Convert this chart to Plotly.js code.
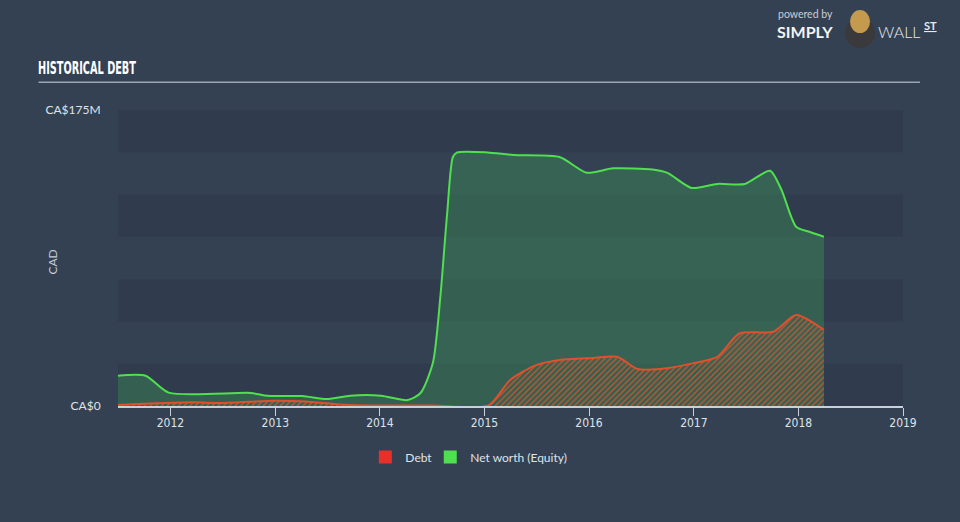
<!DOCTYPE html>
<html>
<head>
<meta charset="utf-8">
<script src="https://cdn.plot.ly/plotly-3.0.1.min.js"></script>
<style>
  html, body { margin: 0; padding: 0; background: #344153; }
  #chart { width: 960px; height: 522px; }
</style>
</head>
<body>
<div id="chart"></div>
<script>
// ---- Data (values in CAD) ----
const equityDates = ['2011-07-01','2011-10-06','2011-12-26','2012-10-08','2012-12-05','2013-04-05','2013-07-01','2013-09-20','2014-01-05','2014-04-08','2014-05-23','2014-07-05','2014-07-31','2014-08-24','2014-09-13','2014-09-28','2015-01-12','2015-04-12','2015-09-20','2015-12-24','2016-03-25','2016-08-10','2016-10-01','2016-12-24','2017-03-24','2017-06-28','2017-09-24','2017-11-03','2017-12-24','2018-02-10','2018-03-31'];
const equityValues = [17.9,17.9,7.9,7.7,6.0,5.9,4.1,6.1,6.1,3.5,7.7,25.4,64.4,114,147.2,149.9,149.9,148.4,147.2,137.9,140.5,139.8,137.8,128.9,131.3,131.3,139.1,127.7,106.0,102.9,100.1].map(v => v * 1e6);

const debtDates = ['2011-07-01','2012-03-15','2012-07-01','2013-01-01','2013-04-15','2013-09-15','2014-07-01','2015-01-15','2015-04-01','2015-07-01','2015-09-20','2016-01-15','2016-04-08','2016-06-18','2016-09-05','2016-12-28','2017-03-24','2017-06-10','2017-10-05','2017-12-24','2018-03-31'];
const debtValues = [0.6,2.2,1.8,3.1,2.7,0.6,0.3,0.3,15.4,24.2,27.2,28.4,29.1,21.9,21.9,25.2,29.1,43.0,43.9,53.8,44.9].map(v => v * 1e6);

const yTickVals = [0, 175e6];
const yTickText = ['CA$0', 'CA$175M'];
const bandEdges = [0, 25e6, 50e6, 75e6, 100e6, 125e6, 150e6, 175e6];

// ---- Traces ----
const equity = {
  x: equityDates, y: equityValues, type: 'scatter', mode: 'lines',
  line: { color: '#4fdf4f', width: 2, shape: 'spline', smoothing: 0.7 },
  fill: 'tozeroy', fillcolor: 'rgba(64,170,90,0.33)',
  hoverinfo: 'skip', showlegend: false
};
const debt = {
  x: debtDates, y: debtValues, type: 'scatter', mode: 'lines',
  line: { color: '#e0502d', width: 2, shape: 'spline', smoothing: 0.7 },
  fill: 'tozeroy', fillcolor: 'rgba(105,108,90,0.55)',
  fillpattern: { shape: '/', fgcolor: '#c9582f', size: 4, solidity: 0.32 },
  hoverinfo: 'skip', showlegend: false
};
const legDebt = { x: [null], y: [null], type: 'scatter', mode: 'markers', name: 'Debt',
  legend: 'legend', marker: { symbol: 'square', size: 13, color: '#e8302a' } };
const legEq = { x: [null], y: [null], type: 'scatter', mode: 'markers', name: 'Net worth (Equity)',
  legend: 'legend2', marker: { symbol: 'square', size: 13, color: '#4fe04f' } };

// ---- Background bands ----
const shapes = [];
for (let i = 0; i < bandEdges.length - 1; i++) {
  if (i % 2 === 0) {
    shapes.push({ type: 'rect', xref: 'paper', yref: 'y', x0: 0, x1: 1,
      y0: bandEdges[i], y1: bandEdges[i + 1], fillcolor: '#303c4d', line: { width: 0 }, layer: 'below' });
  }
}
// title underline
shapes.push({ type: 'line', xref: 'paper', yref: 'paper', x0: -0.1012, x1: 1.0216, y0: 1.094, y1: 1.094,
  line: { color: '#9aa6b2', width: 1.5 } });
// logo icon
shapes.push({ type: 'circle', xref: 'paper', yref: 'paper', x0: 0.9262, x1: 0.9644, y0: 1.2095, y1: 1.3108,
  fillcolor: '#3a3a3c', line: { width: 0 } });
shapes.push({ type: 'circle', xref: 'paper', yref: 'paper', x0: 0.9325, x1: 0.9580, y0: 1.2600, y1: 1.3378,
  fillcolor: '#c39a4e', line: { width: 0 } });

const annotations = [
  { text: 'CAD', xref: 'paper', yref: 'paper', x: -0.0834, y: 0.4865, textangle: -90,
    xanchor: 'center', yanchor: 'middle',
    showarrow: false, font: { family: 'Lato, sans-serif', size: 12, color: '#c5ccd4' } },
  { text: 'powered by', xref: 'paper', yref: 'paper', x: 0.8383, y: 1.3260, xanchor: 'left', yanchor: 'middle',
    showarrow: false, font: { family: 'Lato, sans-serif', size: 10.5, color: '#c8ced6' } },
  { text: '<b>SIMPLY</b>', xref: 'paper', yref: 'paper', x: 0.8370, y: 1.2640, xanchor: 'left', yanchor: 'middle',
    showarrow: false, font: { family: 'Lato, sans-serif', size: 16, color: '#f2f4f6' } },
  { text: 'WALL', xref: 'paper', yref: 'paper', x: 0.9656, y: 1.2640, xanchor: 'left', yanchor: 'middle',
    showarrow: false, font: { family: 'Lato, sans-serif', size: 16, color: '#e6e9ec', weight: 300 } },
  { text: '<b><u>ST</u></b>', xref: 'paper', yref: 'paper', x: 1.0240, y: 1.2860, xanchor: 'left', yanchor: 'middle',
    showarrow: false, font: { family: 'Lato, sans-serif', size: 11, color: '#e6e9ec' } }
];

const legendFont = { family: 'Lato, sans-serif', size: 12, color: '#dfe3e8' };

const layout = {
  width: 960, height: 522,
  paper_bgcolor: '#344153', plot_bgcolor: '#344153',
  margin: { l: 117.5, r: 57, t: 110, b: 116 },
  title: { text: '<b>HISTORICAL DEBT</b>', x: 0.0396, xref: 'container', xanchor: 'left',
    y: 0.8697, yref: 'container', yanchor: 'middle',
    font: { family: '"DejaVu Sans Condensed", sans-serif', size: 18, color: '#ffffff' } },
  xaxis: {
    type: 'date', range: ['2011-07-02', '2019-01-01'],
    tick0: '2012-01-01', dtick: 'M12', tickformat: '%Y',
    showgrid: false, zeroline: false,
    showline: true, linecolor: '#c9d0d8', linewidth: 1.5,
    ticks: 'outside', ticklen: 8, tickcolor: '#c9d0d8', tickwidth: 1,
    ticklabelstandoff: -3,
    tickfont: { family: '"DejaVu Sans Condensed", sans-serif', size: 12, color: '#dfe3e8' },
    fixedrange: true
  },
  yaxis: {
    range: [0, 175e6], tickvals: yTickVals, ticktext: yTickText,
    showgrid: false, zeroline: false, showline: false,
    ticks: 'outside', ticklen: 14, tickcolor: 'rgba(0,0,0,0)',
    tickfont: { family: 'Lato, sans-serif', size: 12, color: '#dfe3e8' },
    fixedrange: true
  },
  showlegend: true,
  legend: { orientation: 'h', x: 0.3151, xanchor: 'left', y: -0.172, yanchor: 'middle',
    font: legendFont, bgcolor: 'rgba(0,0,0,0)' },
  legend2: { orientation: 'h', x: 0.3978, xanchor: 'left', y: -0.172, yanchor: 'middle',
    font: legendFont, bgcolor: 'rgba(0,0,0,0)' },
  shapes: shapes,
  annotations: annotations
};

Plotly.newPlot('chart', [equity, debt, legDebt, legEq], layout, { displayModeBar: false, staticPlot: true })
  .then(function (gd) {
    // condense the title horizontally to match the narrow display face
    const t = gd.querySelector('.gtitle');
    if (t) {
      const bb = t.getBBox();
      const x0 = bb.x;
      const s = 98 / bb.width;
      t.setAttribute('transform', 'translate(' + x0 + ',0) scale(' + s + ',1) translate(' + (-x0) + ',0)');
    }
  });
</script>
</body>
</html>
